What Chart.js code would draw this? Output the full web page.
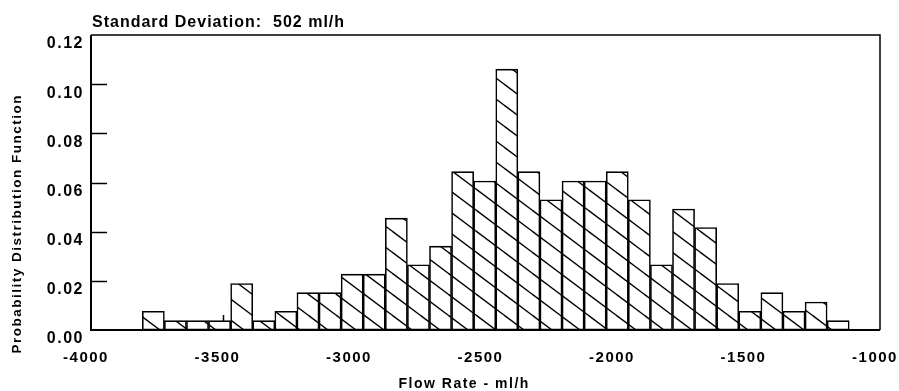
<!DOCTYPE html>
<html>
<head>
<meta charset="utf-8">
<script src="https://cdn.jsdelivr.net/npm/chart.js@4.4.1/dist/chart.umd.min.js"></script>
<style>
  html, body { margin: 0; padding: 0; background: #fff; overflow: hidden; }
  canvas { display: block; }
</style>
</head>
<body>
<canvas id="c" width="899" height="391" style="width:899px;height:391px"></canvas>
<script>
// Histogram of flow-rate deviations (probability per bin)
const chartTitle = 'Standard Deviation:  502 ml/h';
const xAxisTitle = 'Flow Rate - ml/h';
const yAxisTitle = 'Probability Distribution Function';

// bin centres, ml/h
const binCenters = [
  -3763, -3679, -3595, -3511, -3427, -3343, -3259, -3175,
  -3091, -3007, -2923, -2839, -2755, -2671, -2587, -2503,
  -2419, -2335, -2251, -2167, -2083, -1999, -1915, -1831,
  -1747, -1663, -1579, -1495, -1411, -1327, -1243, -1159
];

// probability in each bin
const pdfValues = [
  0.0076, 0.0038, 0.0038, 0.0038, 0.0189, 0.0038, 0.0076, 0.0152,
  0.0152, 0.0227, 0.0227, 0.0455, 0.0265, 0.0341, 0.0644, 0.0606,
  0.1061, 0.0644, 0.0530, 0.0606, 0.0606, 0.0644, 0.0530, 0.0265,
  0.0492, 0.0417, 0.0189, 0.0076, 0.0152, 0.0076, 0.0114, 0.0038
];

const xTicks = [-4000, -3500, -3000, -2500, -2000, -1500, -1000];
const yTicks = [0, 0.02, 0.04, 0.06, 0.08, 0.10, 0.12];

const FONT = "'Liberation Sans', Arial, Helvetica, sans-serif";
const SPACING = '1.5px';

const canvas = document.getElementById('c');
const mainCtx = canvas.getContext('2d');

// diagonal "\" hatching, white ground
function makeHatch() {
  const w = 28, h = 21;
  const tile = document.createElement('canvas');
  tile.width = w; tile.height = h;
  const g = tile.getContext('2d');
  g.fillStyle = '#fff';
  g.fillRect(0, 0, w, h);
  g.strokeStyle = '#000';
  g.lineWidth = 1.4;
  for (const dx of [-w, 0, w]) {
    for (const dy of [-h, 0, h]) {
      g.beginPath();
      g.moveTo(dx, dy);
      g.lineTo(dx + w, dy + h);
      g.stroke();
    }
  }
  return mainCtx.createPattern(tile, 'repeat');
}

const framePlugin = {
  id: 'frame',
  beforeUpdate(chart) { chart.ctx.letterSpacing = SPACING; },
  beforeDraw(chart) { chart.ctx.letterSpacing = SPACING; },
  beforeDatasetsDraw(chart) {
    // short inward tick marks
    const { ctx, chartArea: a, scales: { x, y } } = chart;
    ctx.save();
    ctx.strokeStyle = '#000';
    ctx.lineWidth = 1.5;
    yTicks.slice(1, -1).forEach(v => {
      const py = Math.round(y.getPixelForValue(v)) + 0.5;
      ctx.beginPath();
      ctx.moveTo(a.left, py);
      ctx.lineTo(a.left + 16, py);
      ctx.stroke();
    });
    xTicks.slice(1, -1).forEach(v => {
      const px = Math.round(x.getPixelForValue(v)) + 0.5;
      ctx.beginPath();
      ctx.moveTo(px, a.bottom);
      ctx.lineTo(px, a.bottom - 15);
      ctx.stroke();
    });
    ctx.restore();
  },
  afterDatasetsDraw(chart) {
    // box around the plot area
    const { ctx, chartArea: a } = chart;
    ctx.save();
    ctx.strokeStyle = '#000';
    ctx.lineWidth = 1.5;
    ctx.beginPath();
    ctx.moveTo(a.left, a.top);
    ctx.lineTo(a.right, a.top);
    ctx.lineTo(a.right, a.bottom);
    ctx.stroke();
    ctx.lineWidth = 2;
    ctx.beginPath();
    ctx.moveTo(a.left, a.top);
    ctx.lineTo(a.left, a.bottom);
    ctx.lineTo(a.right, a.bottom);
    ctx.stroke();
    ctx.restore();
  },
  afterDraw(chart) {
    const { ctx, chartArea: a } = chart;
    ctx.save();
    ctx.fillStyle = '#000';
    ctx.textBaseline = 'alphabetic';
    // chart heading
    ctx.letterSpacing = '1px';
    ctx.font = 'bold 16px ' + FONT;
    ctx.textAlign = 'left';
    ctx.fillText(chartTitle, a.left + 1, 27);
    // x-axis title
    ctx.letterSpacing = SPACING;
    ctx.font = 'bold 14px ' + FONT;
    ctx.textAlign = 'center';
    ctx.fillText(xAxisTitle, a.left + (a.right - a.left) * 0.473, 388);
    // y-axis title, rotated
    ctx.font = 'bold 13.5px ' + FONT;
    ctx.textBaseline = 'middle';
    ctx.translate(17, a.top + (a.bottom - a.top) * 0.64);
    ctx.rotate(-Math.PI / 2);
    ctx.fillText(yAxisTitle, 0, 0);
    ctx.restore();
  }
};

new Chart(canvas, {
  type: 'bar',
  data: {
    datasets: [{
      data: binCenters.map((x, i) => ({ x: x, y: pdfValues[i] })),
      backgroundColor: makeHatch(),
      borderColor: '#000',
      borderWidth: 1.6,
      borderSkipped: false,
      barPercentage: 1,
      categoryPercentage: 1
    }]
  },
  options: {
    responsive: false,
    animation: false,
    devicePixelRatio: 1,
    layout: { padding: { top: 35, right: 19, left: 0, bottom: 0 } },
    plugins: {
      legend: { display: false },
      title: { display: false },
      tooltip: { enabled: false }
    },
    scales: {
      x: {
        type: 'linear',
        min: -4000,
        max: -1000,
        offset: false,
        grid: { display: false, drawTicks: false, offset: false },
        border: { display: false },
        afterBuildTicks(scale) { scale.ticks = xTicks.map(v => ({ value: v })); },
        afterFit(scale) {
          scale.height = 61;
          scale.paddingLeft = 0;
          scale.paddingRight = 0;
        },
        ticks: {
          autoSkip: false,
          maxRotation: 0,
          padding: 19,
          labelOffset: -5,
          color: '#000',
          font: { family: FONT, size: 15, weight: 'bold' },
          callback: v => String(v)
        }
      },
      y: {
        min: 0,
        max: 0.12,
        grid: { display: false, drawTicks: false },
        border: { display: false },
        afterBuildTicks(scale) { scale.ticks = yTicks.map(v => ({ value: v })); },
        afterFit(scale) {
          scale.width = 91;
          scale.paddingTop = 0;
          scale.paddingBottom = 0;
        },
        ticks: {
          padding: 7,
          labelOffset: 9,
          color: '#000',
          font: { family: FONT, size: 16, weight: 'bold' },
          callback: v => Number(v).toFixed(2)
        }
      }
    }
  },
  plugins: [framePlugin]
});
</script>
</body>
</html>
